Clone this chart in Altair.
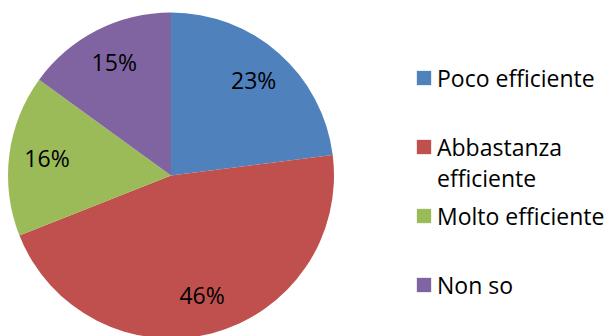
import altair as alt
import pandas as pd

categories = ["Poco efficiente", "Abbastanza efficiente", "Molto efficiente", "Non so"]
percentages = [23, 46, 16, 15]
colors = ["#4F81BD", "#C0504D", "#9BBB59", "#8064A2"]
legend_labels = ["Poco efficiente", "Abbastanza\nefficiente", "Molto efficiente", "Non so"]

df = pd.DataFrame({
    "category": categories,
    "value": percentages,
    "order": list(range(len(categories))),
    "label": [f"{v}%" for v in percentages],
    "legend": legend_labels,
})

FONT = "Open Sans"
color_scale = alt.Scale(domain=categories, range=colors)

base = alt.Chart(df).encode(
    theta=alt.Theta("value:Q", stack=True),
    order=alt.Order("order:Q"),
)

arcs = base.mark_arc(outerRadius=163, yOffset=7.5).encode(
    color=alt.Color("category:N", scale=color_scale, legend=None)
)
pie_text = base.mark_text(
    radius=125, yOffset=7.5, font=FONT, fontSize=23, color="#000000",
    align="center", baseline="middle"
).encode(text="label:N")

pie = alt.layer(arcs, pie_text).properties(width=342, height=336)

leg_base = alt.Chart(df).encode(
    y=alt.Y("category:N",
            scale=alt.Scale(type="point", domain=categories, range=[78, 285], padding=0),
            axis=None)
)
squares = leg_base.mark_square(size=205, opacity=1, x=82).encode(
    color=alt.Color("category:N", scale=color_scale, legend=None)
)
leg_text = leg_base.mark_text(
    x=95, align="left", baseline="alphabetic", dy=9, lineBreak="\n", lineHeight=31,
    font=FONT, fontSize=23, color="#000000"
).encode(text="legend:N")

legend = alt.layer(squares, leg_text).properties(width=273, height=336)

chart = alt.hconcat(pie, legend, spacing=0).properties(padding=0).configure_view(stroke=None)

chart.save("out.html", embed_options={"renderer": "svg", "actions": False})
